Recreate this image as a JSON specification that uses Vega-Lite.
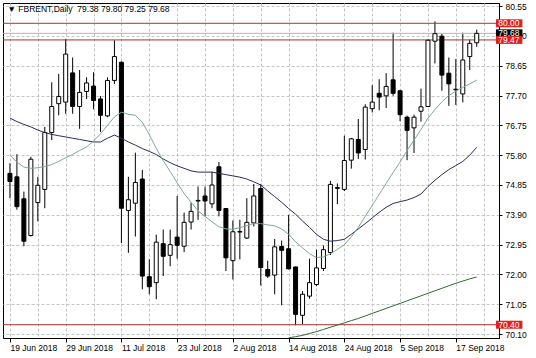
{
"$schema":"https://vega.github.io/schema/vega-lite/v6.json",
"width":496,"height":335,"autosize":"none",
"padding":{"left":3,"top":3,"right":37,"bottom":20},
"background":"white",
"config":{"view":{"stroke":"black","strokeWidth":1},"font":"Liberation Sans",
 "axis":{"labelFont":"Liberation Sans","labelFontSize":8.5,"labelColor":"black","domainColor":"black","tickColor":"black","gridColor":"#c4c4c4","gridDash":[3,2],"gridWidth":1,"labelOverlap":false,"labelFlush":false,"labelBound":false,"tickCount":100}},
"title":{"text":"▼\u00a0FBRENT,Daily\u00a0\u00a079.38 79.80 79.25 79.68","anchor":"start","offset":-11,"dx":5,"fontSize":8.5,"fontWeight":"normal","color":"black","font":"Liberation Sans"},
"datasets":{
"bars":[
{"i":0,"o":75.22,"h":75.54,"l":74.43,"c":74.96,"f":75.80,"m":76.98},
{"i":1,"o":75.11,"h":75.83,"l":74.06,"c":74.16,"f":75.58,"m":76.87},
{"i":2,"o":74.41,"h":74.64,"l":72.90,"c":73.06,"f":75.42,"m":76.78},
{"i":3,"o":73.24,"h":75.75,"l":73.21,"c":75.67,"f":75.38,"m":76.70},
{"i":4,"o":74.29,"h":75.11,"l":73.69,"c":74.84,"f":75.40,"m":76.60},
{"i":5,"o":74.71,"h":76.70,"l":74.11,"c":76.52,"f":75.44,"m":76.52},
{"i":6,"o":76.52,"h":78.12,"l":76.28,"c":77.35,"f":75.50,"m":76.46},
{"i":7,"o":77.44,"h":78.39,"l":77.07,"c":77.67,"f":75.60,"m":76.42},
{"i":8,"o":77.49,"h":79.50,"l":77.12,"c":79.02,"f":75.72,"m":76.38},
{"i":9,"o":78.42,"h":78.91,"l":77.12,"c":77.35,"f":75.82,"m":76.34},
{"i":10,"o":77.35,"h":78.51,"l":76.64,"c":77.80,"f":75.95,"m":76.30},
{"i":11,"o":77.83,"h":78.28,"l":77.59,"c":78.10,"f":76.06,"m":76.26},
{"i":12,"o":78.00,"h":78.44,"l":77.26,"c":77.54,"f":76.25,"m":76.22},
{"i":13,"o":77.59,"h":77.68,"l":76.54,"c":77.07,"f":76.48,"m":76.22},
{"i":14,"o":77.05,"h":78.28,"l":77.01,"c":78.18,"f":76.75,"m":76.34},
{"i":15,"o":78.18,"h":79.46,"l":78.07,"c":78.94,"f":77.02,"m":76.44},
{"i":16,"o":78.76,"h":78.78,"l":73.00,"c":74.11,"f":77.17,"m":76.34},
{"i":17,"o":74.04,"h":75.11,"l":72.69,"c":74.38,"f":77.10,"m":76.22},
{"i":18,"o":74.27,"h":75.88,"l":73.21,"c":74.93,"f":77.07,"m":76.12},
{"i":19,"o":75.04,"h":75.33,"l":71.53,"c":71.95,"f":76.85,"m":76.01},
{"i":20,"o":71.93,"h":72.48,"l":71.37,"c":71.61,"f":76.45,"m":75.92},
{"i":21,"o":71.74,"h":73.27,"l":71.21,"c":73.03,"f":76.02,"m":75.82},
{"i":22,"o":72.98,"h":73.43,"l":71.95,"c":72.58,"f":75.62,"m":75.68},
{"i":23,"o":72.61,"h":73.43,"l":72.26,"c":72.95,"f":75.28,"m":75.56},
{"i":24,"o":73.19,"h":74.50,"l":72.50,"c":72.93,"f":74.92,"m":75.46},
{"i":25,"o":72.90,"h":73.97,"l":72.71,"c":73.66,"f":74.58,"m":75.38},
{"i":26,"o":73.67,"h":74.29,"l":73.43,"c":74.01,"f":74.30,"m":75.30},
{"i":27,"o":74.34,"h":74.80,"l":73.74,"c":74.36,"f":74.03,"m":75.26},
{"i":28,"o":74.50,"h":74.80,"l":73.85,"c":74.34,"f":73.85,"m":75.26},
{"i":29,"o":74.25,"h":75.27,"l":74.11,"c":74.85,"f":73.68,"m":75.26},
{"i":30,"o":75.43,"h":75.58,"l":73.85,"c":74.04,"f":73.52,"m":75.22},
{"i":31,"o":74.10,"h":74.10,"l":72.11,"c":72.53,"f":73.45,"m":75.18},
{"i":32,"o":72.44,"h":73.72,"l":71.84,"c":73.36,"f":73.44,"m":75.14},
{"i":33,"o":73.35,"h":73.74,"l":72.48,"c":73.37,"f":73.49,"m":75.10},
{"i":34,"o":73.16,"h":74.43,"l":73.13,"c":73.66,"f":73.56,"m":75.04},
{"i":35,"o":73.64,"h":74.88,"l":73.53,"c":74.50,"f":73.62,"m":74.95},
{"i":36,"o":74.74,"h":74.88,"l":71.65,"c":72.22,"f":73.62,"m":74.85},
{"i":37,"o":72.16,"h":72.44,"l":71.89,"c":71.95,"f":73.58,"m":74.66},
{"i":38,"o":71.98,"h":73.13,"l":71.37,"c":72.88,"f":73.55,"m":74.48},
{"i":39,"o":72.89,"h":73.08,"l":71.02,"c":72.77,"f":73.45,"m":74.30},
{"i":40,"o":72.82,"h":73.90,"l":72.16,"c":72.18,"f":73.28,"m":74.10,"s":69.98},
{"i":41,"o":72.24,"h":72.24,"l":70.38,"c":70.73,"f":73.04,"m":73.92,"s":70.02},
{"i":42,"o":70.70,"h":71.47,"l":70.42,"c":71.37,"f":72.85,"m":73.70,"s":70.06},
{"i":43,"o":71.31,"h":72.50,"l":71.23,"c":71.74,"f":72.66,"m":73.50,"s":70.12},
{"i":44,"o":71.68,"h":72.79,"l":71.63,"c":72.21,"f":72.54,"m":73.28,"s":70.18},
{"i":45,"o":72.19,"h":72.92,"l":72.11,"c":72.79,"f":72.56,"m":73.12,"s":70.25},
{"i":46,"o":72.70,"h":74.98,"l":72.62,"c":74.87,"f":72.66,"m":73.06,"s":70.32},
{"i":47,"o":74.74,"h":74.90,"l":74.24,"c":74.77,"f":72.80,"m":73.08,"s":70.39},
{"i":48,"o":74.71,"h":76.42,"l":74.66,"c":75.63,"f":72.95,"m":73.12,"s":70.46},
{"i":49,"o":75.64,"h":76.35,"l":75.37,"c":76.32,"f":73.20,"m":73.28,"s":70.53},
{"i":50,"o":76.30,"h":76.95,"l":75.68,"c":75.87,"f":73.50,"m":73.45,"s":70.60},
{"i":51,"o":75.98,"h":77.42,"l":75.66,"c":77.33,"f":73.85,"m":73.62,"s":70.68},
{"i":52,"o":77.28,"h":78.03,"l":77.16,"c":77.49,"f":74.20,"m":73.80,"s":70.76},
{"i":53,"o":77.77,"h":78.22,"l":77.23,"c":77.65,"f":74.55,"m":73.98,"s":70.84},
{"i":54,"o":77.69,"h":78.41,"l":77.30,"c":77.99,"f":74.90,"m":74.14,"s":70.92},
{"i":55,"o":78.20,"h":79.70,"l":77.69,"c":77.77,"f":75.25,"m":74.26,"s":71.00},
{"i":56,"o":77.85,"h":77.88,"l":76.88,"c":77.09,"f":75.58,"m":74.32,"s":71.08},
{"i":57,"o":77.01,"h":77.06,"l":75.64,"c":76.59,"f":75.95,"m":74.37,"s":71.16},
{"i":58,"o":76.67,"h":77.09,"l":75.87,"c":77.01,"f":76.28,"m":74.45,"s":71.24},
{"i":59,"o":77.20,"h":77.92,"l":76.87,"c":77.34,"f":76.62,"m":74.56,"s":71.32},
{"i":60,"o":77.35,"h":79.48,"l":77.33,"c":79.46,"f":76.98,"m":74.80,"s":71.40},
{"i":61,"o":79.43,"h":80.06,"l":78.72,"c":79.67,"f":77.25,"m":75.00,"s":71.48},
{"i":62,"o":79.59,"h":79.67,"l":77.85,"c":78.35,"f":77.50,"m":75.18,"s":71.56},
{"i":63,"o":78.41,"h":78.91,"l":77.37,"c":78.07,"f":77.70,"m":75.34,"s":71.64},
{"i":64,"o":77.88,"h":78.86,"l":77.40,"c":77.90,"f":77.84,"m":75.47,"s":71.72},
{"i":65,"o":77.75,"h":79.70,"l":77.48,"c":78.83,"f":77.96,"m":75.60,"s":71.79},
{"i":66,"o":78.94,"h":79.48,"l":78.51,"c":79.36,"f":78.07,"m":75.80,"s":71.86},
{"i":67,"o":79.38,"h":79.80,"l":79.25,"c":79.68,"f":78.19,"m":76.05,"s":71.92}
],
"levels":[
{"v":80.00,"t":"80.00","k":"level"},
{"v":79.68,"t":"79.68","k":"price"},
{"v":79.47,"t":"79.47","k":"level"},
{"v":70.40,"t":"70.40","k":"level"}
]},
"layer":[
{"data":{"name":"bars"},
 "mark":{"type":"rule","color":"black","strokeWidth":1},
 "encoding":{
  "x":{"field":"i","type":"quantitative","title":null,"scale":{"domain":[-0.28,69.48],"nice":false,"zero":false},
   "axis":{"title":null,"orient":"bottom","values":[0,4,8,12,16,20,24,28,32,36,40,44,48,52,56,60,64,68],"tickCount":100,
    "labelExpr":"datum.value % 8 === 0 ? ['19 Jun 2018','29 Jun 2018','11 Jul 2018','23 Jul 2018','2 Aug 2018','14 Aug 2018','24 Aug 2018','5 Sep 2018','17 Sep 2018'][datum.value / 8] : ''",
    "grid":true,"tickSize":4,"tickOpacity":{"condition":{"test":"datum.value % 8 === 0","value":1},"value":0},
    "labelAlign":"left","labelBaseline":"top","labelFlush":false,"labelOverlap":false,"labelPadding":1,"domain":true}},
  "y":{"field":"l","type":"quantitative","title":null,"scale":{"domain":[69.977,80.646],"nice":false,"zero":false},
   "axis":{"title":null,"orient":"right","values":[80.55,79.6,78.65,77.7,76.75,75.8,74.85,73.9,72.95,72,71.05,70.1],"tickCount":100,"format":".2f","grid":true,"tickSize":3,"labelPadding":3,"labelFlush":false,"labelOverlap":false,"labelBound":false}},
  "y2":{"field":"h"}}},
{"data":{"name":"levels"},"transform":[{"filter":"datum.k === 'price'"}],
 "mark":{"type":"rule","color":"#b4b4b4","strokeWidth":1},
 "encoding":{"y":{"field":"v","type":"quantitative","title":null,"scale":{"domain":[69.977,80.646],"nice":false,"zero":false}}}},
{"data":{"name":"levels"},"transform":[{"filter":"datum.k === 'level'"}],
 "mark":{"type":"rule","color":"#b03030","strokeWidth":1},
 "encoding":{"y":{"field":"v","type":"quantitative","title":null,"scale":{"domain":[69.977,80.646],"nice":false,"zero":false}}}},
{"data":{"name":"bars"},
 "mark":{"type":"bar","size":4,"stroke":"black","strokeWidth":1},
 "encoding":{
  "x":{"field":"i","type":"quantitative","title":null,"scale":{"domain":[-0.28,69.48],"nice":false,"zero":false}},
  "y":{"field":"o","type":"quantitative","title":null,"scale":{"domain":[69.977,80.646],"nice":false,"zero":false}},
  "y2":{"field":"c"},
  "fill":{"condition":{"test":"datum.c >= datum.o","value":"white"},"value":"black"}}},
{"data":{"name":"bars"},"transform":[{"filter":"isValid(datum.s)"}],
 "mark":{"type":"line","color":"#2f6a2f","strokeWidth":1,"clip":true},
 "encoding":{
  "x":{"field":"i","type":"quantitative","title":null,"scale":{"domain":[-0.28,69.48],"nice":false,"zero":false}},
  "y":{"field":"s","type":"quantitative","title":null,"scale":{"domain":[69.977,80.646],"nice":false,"zero":false}}}},
{"data":{"name":"bars"},
 "mark":{"type":"line","color":"#2c2c5c","strokeWidth":1,"clip":true},
 "encoding":{
  "x":{"field":"i","type":"quantitative","title":null,"scale":{"domain":[-0.28,69.48],"nice":false,"zero":false}},
  "y":{"field":"m","type":"quantitative","title":null,"scale":{"domain":[69.977,80.646],"nice":false,"zero":false}}}},
{"data":{"name":"bars"},
 "mark":{"type":"line","color":"#7fa89c","strokeWidth":1,"clip":true},
 "encoding":{
  "x":{"field":"i","type":"quantitative","title":null,"scale":{"domain":[-0.28,69.48],"nice":false,"zero":false}},
  "y":{"field":"f","type":"quantitative","title":null,"scale":{"domain":[69.977,80.646],"nice":false,"zero":false}}}},
{"data":{"name":"levels"},
 "mark":{"type":"rect","yOffset":-4,"y2Offset":4},
 "encoding":{
  "x":{"datum":69.76,"type":"quantitative","title":null,"scale":{"domain":[-0.28,69.48],"nice":false,"zero":false}},
  "x2":{"datum":73.56},
  "y":{"field":"v","type":"quantitative","title":null,"scale":{"domain":[69.977,80.646],"nice":false,"zero":false}},
  "y2":{"field":"v"},
  "color":{"field":"k","type":"nominal","scale":{"domain":["level","price"],"range":["#e3201b","#000000"]},"legend":null}}},
{"data":{"name":"levels"},
 "mark":{"type":"text","color":"white","fontSize":8.5,"font":"Liberation Sans","align":"center","baseline":"middle"},
 "encoding":{
  "x":{"datum":71.62,"type":"quantitative","title":null,"scale":{"domain":[-0.28,69.48],"nice":false,"zero":false}},
  "y":{"field":"v","type":"quantitative","title":null,"scale":{"domain":[69.977,80.646],"nice":false,"zero":false}},
  "text":{"field":"t"}}}
]}
